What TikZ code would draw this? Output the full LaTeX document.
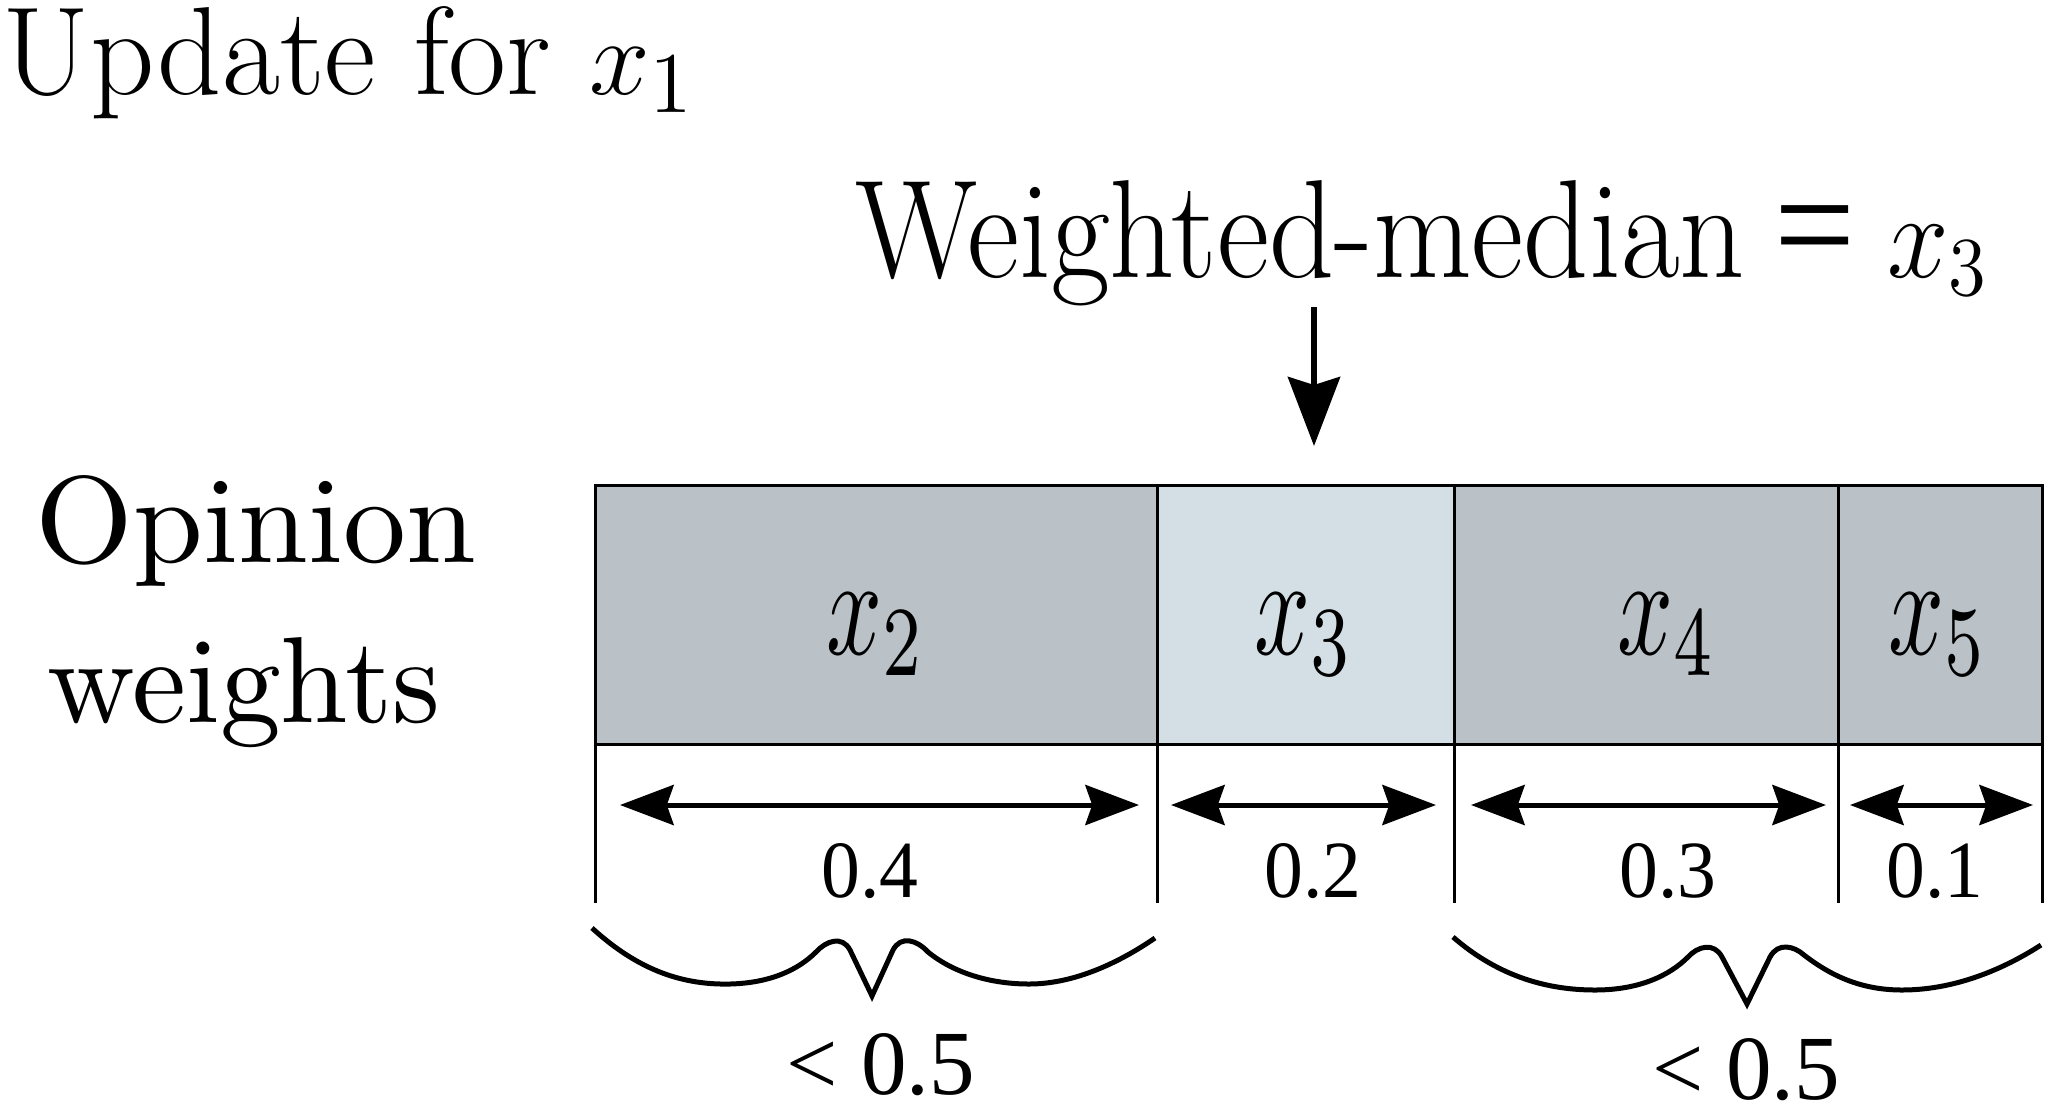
\documentclass[tikz,border=0pt]{standalone}
\usepackage{fontspec}
\usepackage{graphicx}
\newfontfamily\timesf{Liberation Serif}
\usetikzlibrary{arrows.meta}
\definecolor{cellDark}{HTML}{BAC1C7}
\definecolor{cellLight}{HTML}{D4DFE5}
\tikzset{
  txt/.style={inner sep=0pt, outer sep=0pt, anchor=base west},
  ctxt/.style={inner sep=0pt, outer sep=0pt, anchor=base},
  cell/.style={draw=black, line width=0.75pt},
  tick/.style={draw=black, line width=0.75pt},
  span/.style={line width=1.25pt,
    {Stealth[length=13.4pt,width=10pt,inset=1.7pt]}-{Stealth[length=13.4pt,width=10pt,inset=1.7pt]}},
  pointer/.style={line width=1.5pt, -{Stealth[length=17.25pt,width=13pt,inset=2pt]}},
  brace/.style={line width=1.25pt}
}
\begin{document}
\begin{tikzpicture}[x=0.25pt,y=-0.25pt]
\useasboundingbox (0,0) rectangle (2045,1105);
% cells
\draw[cell, fill=cellDark]  (595,485) rectangle (1157,744);
\draw[cell, fill=cellLight] (1157,485) rectangle (1454,744);
\draw[cell, fill=cellDark]  (1454,485) rectangle (1838,744);
\draw[cell, fill=cellDark]  (1838,485) rectangle (2042,744);
% ticks below the cells
\foreach \x in {595,1157,1454,1838,2042} \draw[tick] (\x,744) -- (\x,903);
% texts
\node[txt] (title) at (3,94) {\resizebox{173pt}{22pt}{\fontsize{24}{28}\selectfont Update for {\fontsize{20}{24}\selectfont$x_{\scalebox{1.15}{$\scriptstyle 1$}}$}}};
\node[txt] (wm) at (855,277) {\resizebox{283.5pt}{24.25pt}{\fontsize{24}{28}\selectfont Weighted-median\hspace{5.5pt}{\timesf\fontsize{27}{30}\selectfont =}\hspace{6pt}{\fontsize{20}{24}\selectfont$x_3$}}};
\node[txt] (op) at (36,562) {\resizebox{110pt}{21.75pt}{Opinion}};
\node[txt] (wt) at (48,722) {\resizebox{98pt}{21.25pt}{weights}};
% cell labels
\node[ctxt] (l2) at (876,654) {\resizebox{25pt}{15.25pt}{$x_2$}};
\node[ctxt] (l3) at (1304,654) {\resizebox{25pt}{15.25pt}{$x_3$}};
\node[ctxt] (l4) at (1667,654) {\resizebox{25pt}{15.25pt}{$x_4$}};
\node[ctxt] (l5) at (1938,654) {\resizebox{25pt}{15.25pt}{$x_5$}};
% weights
\node[ctxt] (n2) at (870,897) {\resizebox{24.25pt}{13.5pt}{\timesf 0.4}};
\node[ctxt] (n3) at (1313,897) {\resizebox{24.25pt}{13.5pt}{\timesf 0.2}};
\node[ctxt] (n4) at (1668,897) {\resizebox{24.25pt}{13.5pt}{\timesf 0.3}};
\node[ctxt] (n5) at (1935,897) {\resizebox{24.25pt}{13.5pt}{\timesf 0.1}};
% sums
\node[ctxt] (s1) at (881,1094) {\resizebox{47pt}{15.25pt}{\timesf < 0.5}};
\node[ctxt] (s2) at (1746,1099) {\resizebox{47pt}{15.25pt}{\timesf < 0.5}};
% pointer to the median
\coordinate (ptop) at (1314,307);
\coordinate (ptip) at (1314,446);
\draw[pointer] (ptop) -- (ptip);
% span arrows
\coordinate (a2l) at (620,805);  \coordinate (a2r) at (1139,805);
\coordinate (a3l) at (1171,805); \coordinate (a3r) at (1436,805);
\coordinate (a4l) at (1471,805); \coordinate (a4r) at (1826,805);
\coordinate (a5l) at (1850,805); \coordinate (a5r) at (2033,805);
\draw[span] (a2l) -- (a2r);
\draw[span] (a3l) -- (a3r);
\draw[span] (a4l) -- (a4r);
\draw[span] (a5l) -- (a5r);
% braces
\draw[brace] (592,928) .. controls (640,972) and (685,985) .. (730,984)
  .. controls (770,983) and (798,970) .. (816,952)
  .. controls (826,941) and (842,935) .. (850,950) -- (872,996) -- (893,950)
  .. controls (901,935) and (917,940) .. (928,952)
  .. controls (950,970) and (985,984) .. (1029,984)
  .. controls (1075,984) and (1120,962) .. (1155,938);
\draw[brace] (1453,937) .. controls (1500,978) and (1550,990) .. (1595,990)
  .. controls (1640,990) and (1670,975) .. (1688,957)
  .. controls (1698,946) and (1714,942) .. (1722,957) -- (1747,1004) -- (1770,957)
  .. controls (1778,942) and (1794,946) .. (1804,955)
  .. controls (1830,975) and (1860,990) .. (1902,990)
  .. controls (1960,990) and (2010,965) .. (2041,945);
\end{tikzpicture}
\end{document}
